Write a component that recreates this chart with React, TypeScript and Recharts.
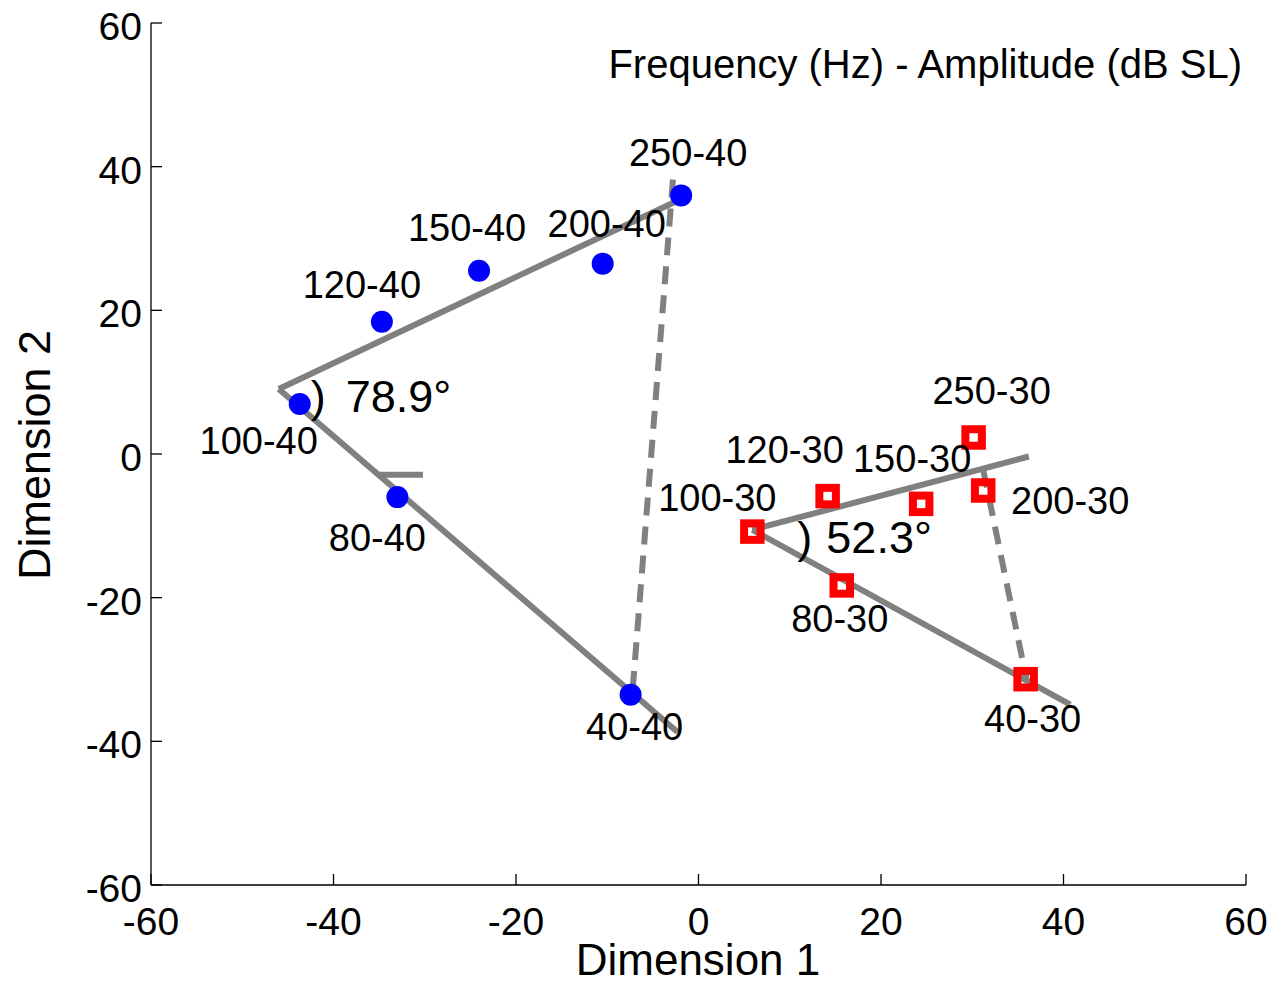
import React from "react";
import { ScatterChart, Scatter, XAxis, YAxis, ReferenceLine, ReferenceDot } from "recharts";

// blue circles: 40 dB SL
const blueNames = ["250-40", "200-40", "150-40", "120-40", "100-40", "80-40", "40-40"];
const blueX = [-1.9, -10.5, -24.05, -34.7, -43.7, -33.0, -7.44];
const blueY = [36.0, 26.5, 25.5, 18.4, 6.95, -6.0, -33.5];

// red squares: 30 dB SL
const redNames = ["250-30", "200-30", "150-30", "120-30", "100-30", "80-30", "40-30"];
const redX = [30.15, 31.2, 24.4, 14.15, 5.9, 15.7, 35.85];
const redY = [2.3, -5.08, -6.94, -5.86, -10.8, -18.3, -31.35];

// fitted lines (upper end, vertex, lower end) and the dashed joins
const blueFit = [{ x: -1.9, y: 35.5 }, { x: -46.0, y: 9.04 }, { x: -2.3, y: -38.7 }];
const blueDash = [{ x: -2.8, y: 38.2 }, { x: -7.2, y: -32.6 }];
const blueMark = [{ x: -35.1, y: -2.9 }, { x: -30.2, y: -2.9 }];
const redFit = [{ x: 36.2, y: -0.35 }, { x: 5.9, y: -10.55 }, { x: 40.75, y: -34.9 }];
const redDash = [{ x: 31.2, y: -2.2 }, { x: 36.0, y: -31.7 }];

const angles = ["78.9", "52.3"];
const ticks = [-60, -40, -20, 0, 20, 40, 60];

const blueData = blueNames.map((name, i) => ({ name, x: blueX[i], y: blueY[i] }));
const redData = redNames.map((name, i) => ({ name, x: redX[i], y: redY[i] }));

// label offsets from the marker centre, in pixels
const labelOffset: Record<string, [number, number]> = {
  "250-40": [7, -43],
  "200-40": [4, -41],
  "150-40": [-12, -44],
  "120-40": [-20, -38],
  "100-40": [-41, 36],
  "80-40": [-20, 40],
  "40-40": [4, 31],
  "250-30": [18, -47],
  "200-30": [87, 10],
  "150-30": [-9, -46],
  "120-30": [-43, -47],
  "100-30": [-35, -35],
  "80-30": [-2, 33],
  "40-30": [7, 39],
};

const FONT = "'Liberation Sans', Arial, Helvetica, sans-serif";
const GRAY = "#808080";

function PointLabel({ cx, cy, name }: { cx: number; cy: number; name: string }) {
  const [dx, dy] = labelOffset[name] || [0, 0];
  return (
    <text x={cx + dx} y={cy + dy + 14} textAnchor="middle" fontSize={38} fontFamily={FONT} fill="#000">
      {name}
    </text>
  );
}

function BlueDot(props: any) {
  const { cx, cy, payload } = props;
  return (
    <g>
      <circle cx={cx} cy={cy} r={11} fill="#0000ff" />
      <PointLabel cx={cx} cy={cy} name={payload.name} />
    </g>
  );
}

function RedSquare(props: any) {
  const { cx, cy, payload } = props;
  return (
    <g>
      <rect x={cx - 8.25} y={cy - 8.25} width={16.5} height={16.5} fill="none" stroke="#ff0000" strokeWidth={8} />
      <PointLabel cx={cx} cy={cy} name={payload.name} />
    </g>
  );
}

function XTick({ x, y, payload }: any) {
  return (
    <g>
      <line x1={x} y1={y} x2={x} y2={y - 11} stroke="#000" strokeWidth={1.3} />
      <text x={x} y={y + 50} textAnchor="middle" fontSize={39} fontFamily={FONT} fill="#000">
        {payload.value}
      </text>
    </g>
  );
}

function YTick({ x, y, payload }: any) {
  return (
    <g>
      <line x1={x} y1={y} x2={x + 11} y2={y} stroke="#000" strokeWidth={1.3} />
      <text x={x - 9} y={y + 17} textAnchor="end" fontSize={39} fontFamily={FONT} fill="#000">
        {payload.value}
      </text>
    </g>
  );
}

function angleShape(text: string, parenDx: number, textDx: number) {
  return (p: any) => (
    <g>
      <text x={p.cx + parenDx} y={p.cy + 23} fontSize={45} fontFamily={FONT} fill="#000">
        )
      </text>
      <text x={p.cx + textDx} y={p.cy + 23} fontSize={45} fontFamily={FONT} fill="#000">
        {text + "°"}
      </text>
    </g>
  );
}

export default function App() {
  return (
    <div style={{ position: "absolute", left: 0, top: 0, width: 1272, height: 986, background: "#fff" }}>
      <ScatterChart width={1272} height={986} margin={{ top: 23, right: 26, bottom: 41, left: 0 }}>
        <XAxis
          type="number"
          dataKey="x"
          domain={[-60, 60]}
          ticks={ticks}
          height={60}
          tickSize={0}
          tickMargin={0}
          tickLine={false}
          axisLine={{ stroke: "#000", strokeWidth: 1.3 }}
          tick={<XTick />}
          interval={0}
        />
        <YAxis
          type="number"
          dataKey="y"
          domain={[-60, 60]}
          ticks={ticks}
          width={151}
          tickSize={0}
          tickMargin={0}
          tickLine={false}
          axisLine={{ stroke: "#000", strokeWidth: 1.3 }}
          tick={<YTick />}
          interval={0}
        />
        <ReferenceLine segment={[blueFit[0], blueFit[1]]} stroke={GRAY} strokeWidth={6} ifOverflow="visible" />
        <ReferenceLine segment={[blueFit[1], blueFit[2]]} stroke={GRAY} strokeWidth={6} ifOverflow="visible" />
        <ReferenceLine segment={[blueMark[0], blueMark[1]]} stroke={GRAY} strokeWidth={6} ifOverflow="visible" />
        <ReferenceLine segment={[redFit[0], redFit[1]]} stroke={GRAY} strokeWidth={6} ifOverflow="visible" />
        <ReferenceLine segment={[redFit[1], redFit[2]]} stroke={GRAY} strokeWidth={6} ifOverflow="visible" />
        <Scatter data={blueData} shape={<BlueDot />} isAnimationActive={false} />
        <Scatter data={redData} shape={<RedSquare />} isAnimationActive={false} />
        <ReferenceLine
          segment={[blueDash[0], blueDash[1]]}
          stroke={GRAY}
          strokeWidth={6}
          strokeDasharray="18 11"
          ifOverflow="visible"
        />
        <ReferenceLine
          segment={[redDash[0], redDash[1]]}
          stroke={GRAY}
          strokeWidth={6}
          strokeDasharray="18 11"
          ifOverflow="visible"
        />
        <ReferenceDot x={blueFit[1].x} y={blueFit[1].y} r={0} shape={angleShape(angles[0], 32, 67)} />
        <ReferenceDot x={redFit[1].x} y={redFit[1].y} r={0} shape={angleShape(angles[1], 45, 74)} />
        <text x={1242} y={78} textAnchor="end" fontSize={40} fontFamily={FONT} fill="#000">
          Frequency (Hz) - Amplitude (dB SL)
        </text>
        <text x={698} y={975} textAnchor="middle" fontSize={44} fontFamily={FONT} fill="#000">
          Dimension 1
        </text>
        <text
          x={50}
          y={455}
          textAnchor="middle"
          fontSize={45}
          fontFamily={FONT}
          fill="#000"
          transform="rotate(-90 50 455)"
        >
          Dimension 2
        </text>
      </ScatterChart>
    </div>
  );
}
